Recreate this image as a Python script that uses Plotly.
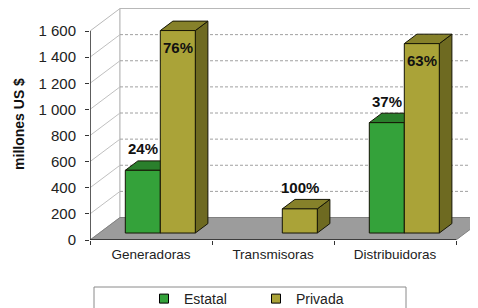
import plotly.graph_objects as go

# ---------------- data ----------------
categories = ["Generadoras", "Transmisoras", "Distribuidoras"]
series_names = ["Estatal", "Privada"]
estatal = [480, 0, 845]
privada = [1550, 185, 1450]
y_ticks = [0, 200, 400, 600, 800, 1000, 1200, 1400, 1600]
y_title = "millones US $"

# ---------------- style / geometry ----------------
OFF = 8                         # page body margin offset (px)
W, H = 478, 308
ML, MT, MR = 90 - OFF, 0, OFF
AXIS_Y = 240 - OFF              # front floor line, in figure px
MB = H - AXIS_Y
PX_PER_CAT = 122.0
PX_PER_UNIT = 209.0 / 1600.0
plot_w = W - ML - MR
plot_h = H - MT - MB
x_range = [-0.5, -0.5 + plot_w / PX_PER_CAT]
y_range = [0, plot_h / PX_PER_UNIT]
DX = 30 / PX_PER_CAT          # depth vector in data units
DY = 22.5 / PX_PER_UNIT
D_FRONT = 0.31                 # bar front plane (fraction of depth)
D_BAR = 0.42                   # bar depth (fraction of depth)
BAR_W = 35 / PX_PER_CAT

FONT = "Arial, Liberation Sans, sans-serif"
front_cols = ["#34a23a", "#aaa338"]
top_cols = ["#2a7f2c", "#86812a"]
side_cols = ["#22661f", "#6e6a21"]
edge = "#151505"

n = len(categories)
ymax = y_ticks[-1]
x0, x1 = -0.5, n - 0.5
series = [estatal, privada]

traces = []


def poly(xs, ys, fill, line, width=1.0):
    return go.Scatter(x=list(xs) + [xs[0]], y=list(ys) + [ys[0]], mode="lines",
                      fill="toself", fillcolor=fill,
                      line=dict(color=line, width=width),
                      hoverinfo="skip", showlegend=False)


# walls
traces.append(poly([x0, x0 + DX, x0 + DX, x0], [0, DY, ymax + DY, ymax], "white", "#b8b8b8"))
traces.append(poly([x0 + DX, x1 + DX + 1, x1 + DX + 1, x0 + DX],
                   [DY, DY, ymax + DY, ymax + DY], "white", "#b8b8b8"))

# gridlines
gx, gy, lx, ly = [], [], [], []
for v in y_ticks[1:-1]:
    gx += [x0 + DX, x1 + DX + 1, None]
    gy += [v + DY, v + DY, None]
    lx += [x0, x0 + DX, None]
    ly += [v, v + DY, None]
traces.append(go.Scatter(x=gx, y=gy, mode="lines", hoverinfo="skip", showlegend=False,
                         line=dict(color="#a0a0a0", width=1, dash="3px,2px")))
traces.append(go.Scatter(x=lx, y=ly, mode="lines", hoverinfo="skip", showlegend=False,
                         line=dict(color="#c0c0c0", width=1)))

# floor
traces.append(poly([x0, x1, x1 + DX, x0 + DX], [0, 0, DY, DY], "#9c9c9c", "#808080"))

# bars
annotations = []
base = D_FRONT * DY
bx, by = D_BAR * DX, D_BAR * DY
for i in range(n):
    c = i + D_FRONT * DX
    total = sum(s[i] for s in series)
    for s, vals in enumerate(series):
        v = vals[i]
        if v <= 0:
            continue
        xa = c - BAR_W + s * BAR_W
        xb = xa + BAR_W
        top = base + v
        traces.append(poly([xb, xb + bx, xb + bx, xb], [base, base + by, top + by, top],
                           side_cols[s], edge))
        traces.append(poly([xa, xb, xb + bx, xa + bx], [top, top, top + by, top + by],
                           top_cols[s], edge))
        traces.append(poly([xa, xb, xb, xa], [base, base, top, top], front_cols[s], edge))
        inside = top + 30 / PX_PER_UNIT > ymax
        annotations.append(dict(
            x=(xa + xb) / 2, y=top, xref="x", yref="y",
            text=f"<b>{round(100 * v / total)}%</b>", showarrow=False,
            yanchor="top" if inside else "bottom",
            yshift=-6 if inside else 11,
            font=dict(family=FONT, size=15, color="#111")))

# front axis lines
traces.append(go.Scatter(x=[x0, x0], y=[0, ymax], mode="lines", hoverinfo="skip",
                         showlegend=False, line=dict(color="#333", width=1.5)))
traces.append(go.Scatter(x=[x0, x1], y=[0, 0], mode="lines", hoverinfo="skip",
                         showlegend=False, line=dict(color="#222", width=1.5)))

# legend entries
for s, name in enumerate(series_names):
    traces.append(go.Scatter(x=[None], y=[None], mode="markers", name=name,
                             marker=dict(symbol="square", size=9, color=front_cols[s],
                                         line=dict(color="black", width=1))))

fig = go.Figure(traces)


def px_to_paper_x(sx):
    return (sx - OFF - ML) / plot_w


def px_to_paper_y(sy):
    return (AXIS_Y - (sy - OFF)) / plot_h


fig.update_layout(
    width=W, height=H,
    margin=dict(l=ML, r=MR, t=MT, b=MB, pad=0, autoexpand=False),
    paper_bgcolor="white", plot_bgcolor="white",
    separators=", ",
    font=dict(family=FONT, size=14, color="#222"),
    showlegend=True,
    legend=dict(orientation="h", x=px_to_paper_x(144), y=px_to_paper_y(283),
                xanchor="left", yanchor="top", itemwidth=30, entrywidth=67,
                font=dict(family=FONT, size=14, color="#222"),
                bgcolor="rgba(0,0,0,0)", borderwidth=0),
    shapes=[dict(type="rect", xref="paper", yref="paper",
                 x0=px_to_paper_x(94), x1=px_to_paper_x(406),
                 y0=px_to_paper_y(287), y1=px_to_paper_y(340),
                 line=dict(color="#8a8a8a", width=1), fillcolor="rgba(0,0,0,0)")],
    annotations=annotations,
    xaxis=dict(range=x_range, tickmode="array", tickvals=list(range(n)), ticktext=categories,
               ticks="", showgrid=False, zeroline=False, showline=False, fixedrange=True,
               automargin=False,
               tickfont=dict(family=FONT, size=13.5, color="#222"),
               ticklabelstandoff=4,
               minor=dict(tickvals=[i - 0.5 for i in range(n + 1)], ticks="outside",
                          ticklen=4, tickcolor="#333", tickwidth=1, showgrid=False)),
    yaxis=dict(range=y_range, tickmode="array", tickvals=y_ticks, tickformat=",d",
               ticks="outside", ticklen=4, tickcolor="#333", showgrid=False,
               zeroline=False, showline=False, fixedrange=True, automargin=False,
               tickfont=dict(family=FONT, size=15, color="#222"), ticklabelstandoff=6,
               title=dict(text=f"<b>{y_title}</b>", standoff=10,
                          font=dict(family=FONT, size=14, color="#111"))),
)

fig.write_html("out.html")
